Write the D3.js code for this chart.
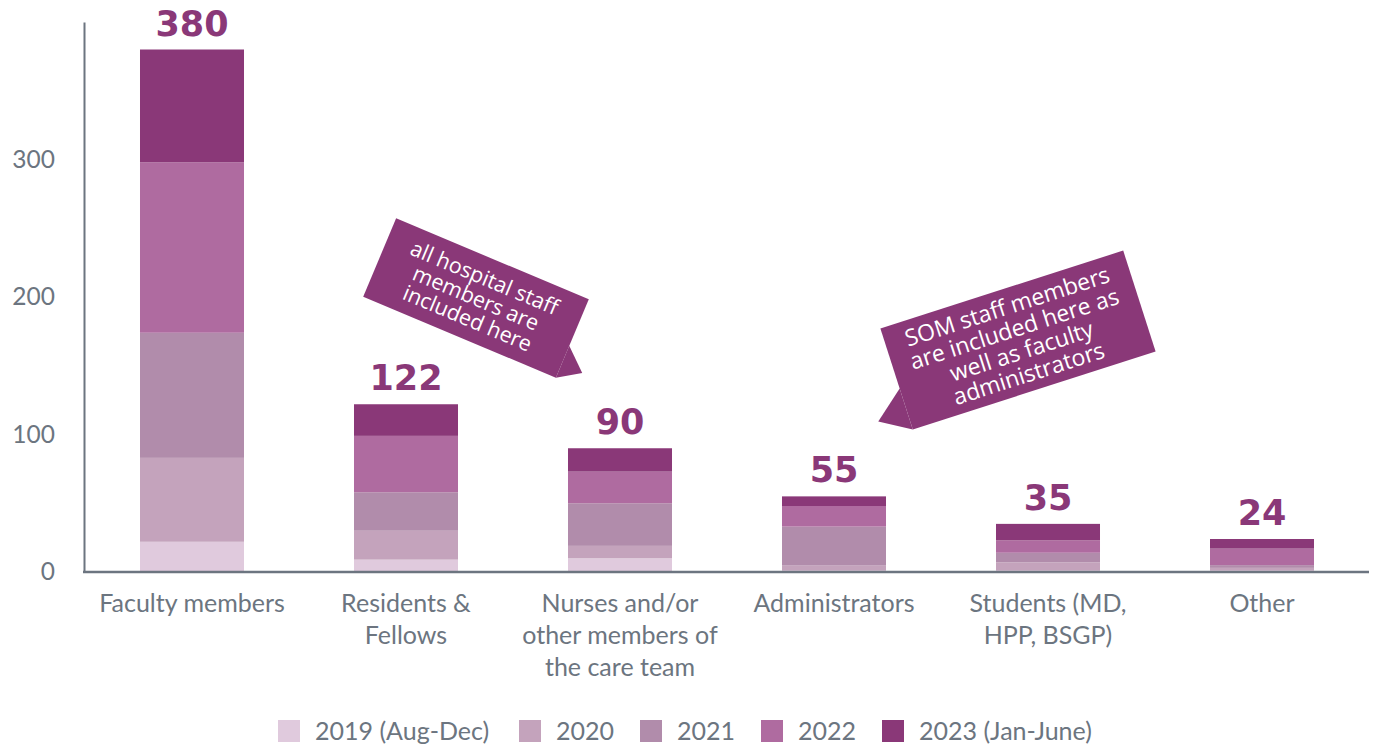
<!DOCTYPE html>
<html>
<head>
<meta charset="utf-8">
<script src="https://cdn.jsdelivr.net/npm/d3@7"></script>
<style>
  body { margin: 0; background: #fff; }
  svg { display: block; }
</style>
</head>
<body>
<svg id="chart" width="1375" height="744"></svg>
<script>
// categories and series
var categories = ["Faculty members", "Residents & Fellows", "Nurses and/or other members of the care team",
                  "Administrators", "Students (MD, HPP, BSGP)", "Other"];
var categoryLines = [["Faculty members"], ["Residents &", "Fellows"], ["Nurses and/or", "other members of", "the care team"],
                     ["Administrators"], ["Students (MD,", "HPP, BSGP)"], ["Other"]];
var years = ["2019 (Aug-Dec)", "2020", "2021", "2022", "2023 (Jan-June)"];
var y2019 = [22, 9, 10, 1, 1, 1];
var y2020 = [61, 21, 9, 4, 6, 2];
var y2021 = [91, 28, 31, 28, 7, 2];
var y2022 = [124, 41, 23, 15, 9, 12];
var y2023 = [82, 23, 17, 7, 12, 7];
var totals = [380, 122, 90, 55, 35, 24];
var yTicks = [0, 100, 200, 300];
var colors = ["#e0cadd", "#c4a3bc", "#b18cab", "#af6ba0", "#8a3878"];

var notes = [
  { lines: ["all hospital staff", "members are", "included here"], cx: 476, cy: 298, w: 209, h: 85, angle: 22.8, size: 21.5, lh: 22,
    tail: [[104.5, 8], [127, 28], [104.5, 42.5]] },
  { lines: ["SOM staff members", "are included here as", "well as faculty", "administrators"], cx: 1018, cy: 340, w: 255, h: 106, angle: -17.8, size: 23, lh: 23.5,
    tail: [[-127.5, 10], [-158, 35], [-127.5, 53]] }
];

var grey = "#6c7580";
var purple = "#8a3878";

var rows = categories.map(function (c, i) {
  var r = { cat: c };
  r[years[0]] = y2019[i];
  r[years[1]] = y2020[i];
  r[years[2]] = y2021[i];
  r[years[3]] = y2022[i];
  r[years[4]] = y2023[i];
  return r;
});

var svg = d3.select("#chart");

var x = d3.scaleBand().domain(categories).range([85, 1369]).paddingInner(0.514).paddingOuter(0.257);
var y = d3.scaleLinear().domain([0, 400]).range([572, 22]);
var color = d3.scaleOrdinal().domain(years).range(colors);

var stacked = d3.stack().keys(years)(rows);

// bars
svg.append("g")
  .selectAll("g")
  .data(stacked)
  .enter()
  .append("g")
    .attr("fill", function (d) { return color(d.key); })
  .selectAll("rect")
  .data(function (d) { return d; })
  .enter()
  .append("rect")
    .attr("x", function (d) { return x(d.data.cat); })
    .attr("y", function (d) { return y(d[1]); })
    .attr("width", x.bandwidth())
    .attr("height", function (d) { return y(d[0]) - y(d[1]); });

// y axis
var yAxis = svg.append("g")
  .attr("transform", "translate(84,0)")
  .call(d3.axisLeft(y).tickValues(yTicks).tickSize(0).tickSizeOuter(0).tickPadding(29));
yAxis.select(".domain").attr("stroke", grey).attr("stroke-width", 2);
yAxis.selectAll("text")
  .attr("fill", grey)
  .attr("font-family", "Lato, sans-serif")
  .attr("font-size", "24.5px");

// x axis
var xAxis = svg.append("g")
  .attr("transform", "translate(0,572)")
  .call(d3.axisBottom(x).tickSize(0).tickSizeOuter(0).tickFormat(""));
xAxis.select(".domain").attr("stroke", grey).attr("stroke-width", 2.5).attr("d", "M83,0H1369");

var catLabel = svg.append("g")
  .selectAll("text")
  .data(categories)
  .enter()
  .append("text")
    .attr("x", function (d) { return x(d) + x.bandwidth() / 2; })
    .attr("y", 612)
    .attr("text-anchor", "middle")
    .attr("fill", grey)
    .attr("font-family", "Lato, sans-serif")
    .attr("font-size", "25px");
catLabel.selectAll("tspan")
  .data(function (d, i) { return categoryLines[i]; })
  .enter()
  .append("tspan")
    .attr("x", function () { return d3.select(this.parentNode).attr("x"); })
    .attr("dy", function (d, i) { return i === 0 ? 0 : 32; })
    .text(function (d) { return d; });

// totals
svg.append("g")
  .selectAll("text")
  .data(categories)
  .enter()
  .append("text")
    .attr("x", function (d) { return x(d) + x.bandwidth() / 2; })
    .attr("y", function (d, i) { return y(totals[i]) - 14; })
    .attr("text-anchor", "middle")
    .attr("fill", purple)
    .attr("font-family", "'DejaVu Sans', sans-serif")
    .attr("font-weight", "bold")
    .attr("font-size", "35px")
    .text(function (d, i) { return totals[i]; });

// callouts
notes.forEach(function (n) {
  var g = svg.append("g")
    .attr("transform", "translate(" + n.cx + "," + n.cy + ") rotate(" + n.angle + ")");
  g.append("rect")
    .attr("x", -n.w / 2).attr("y", -n.h / 2)
    .attr("width", n.w).attr("height", n.h)
    .attr("fill", purple);
  g.append("path")
    .attr("d", d3.line()(n.tail) + "Z")
    .attr("fill", purple);
  g.append("text")
    .attr("text-anchor", "middle")
    .attr("fill", "#fff")
    .attr("font-family", "'Open Sans', sans-serif")
    .attr("font-size", n.size + "px")
    .selectAll("tspan")
    .data(n.lines)
    .enter()
    .append("tspan")
      .attr("x", 0)
      .attr("y", function (d, i) { return (i - (n.lines.length - 1) / 2) * n.lh; })
      .attr("dy", "0.35em")
      .text(function (d) { return d; });
});

// legend
var legendX = [278, 519, 640, 761, 882];
var legend = svg.append("g")
  .selectAll("g")
  .data(years)
  .enter()
  .append("g")
    .attr("transform", function (d, i) { return "translate(" + legendX[i] + ",720)"; });
legend.append("rect")
  .attr("width", 22).attr("height", 22)
  .attr("fill", function (d) { return color(d); });
legend.append("text")
  .attr("x", 37).attr("y", 11)
  .attr("dy", "0.35em")
  .attr("fill", grey)
  .attr("font-family", "Lato, sans-serif")
  .attr("font-size", "25px")
  .text(function (d) { return d; });
</script>
</body>
</html>
